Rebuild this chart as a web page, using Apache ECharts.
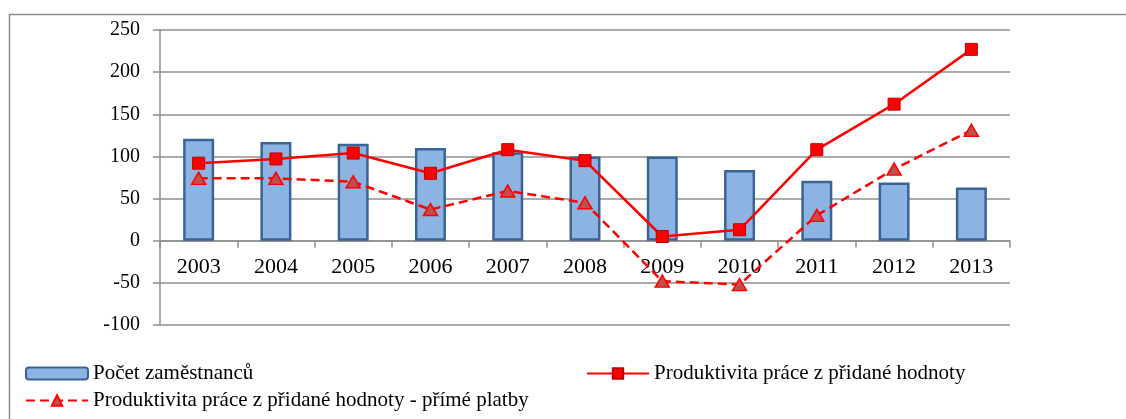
<!DOCTYPE html>
<html>
<head>
<meta charset="utf-8">
<script src="https://cdn.jsdelivr.net/npm/echarts@6/dist/echarts.min.js"></script>
<style>
  html, body { margin: 0; padding: 0; background: #fff; }
  #chart { width: 1126px; height: 419px; }
</style>
</head>
<body>
<div id="chart"></div>
<script>
// Years on the category axis
const years = ['2003', '2004', '2005', '2006', '2007', '2008', '2009', '2010', '2011', '2012', '2013'];

// Series names (legend text)
const nameStaff = 'Počet zaměstnanců';
const nameProd = 'Produktivita práce z přidané hodnoty';
const nameProdDirect = 'Produktivita práce z přidané hodnoty - přímé platby';

// Index values per year
const staffCount = [121, 117, 115, 110, 105, 100, 100, 84, 71, 69, 63];
const productivity = [92, 97, 104, 80, 108, 95, 5, 13, 108, 162, 227];
const productivityDirect = [74, 74, 70, 37, 59, 45, -48, -52, 30, 85, 131];

// Value axis range and step
const yMin = -100, yMax = 250, yStep = 50;

const serif = 'Liberation Serif';
const gridGrey = '#8f8f8f';

const gridTop = 30, gridBottom = 94, chartHeight = 419;
// The category axis sits on the zero line: shift it up from the grid bottom
const plotHeight = chartHeight - gridTop - gridBottom;
const zeroOffset = -plotHeight * (0 - yMin) / (yMax - yMin);

const chart = echarts.init(document.getElementById('chart'), null, { renderer: 'canvas' });

const legendText = { fontFamily: serif, fontSize: 21, color: '#000' };

chart.setOption({
  animation: false,
  backgroundColor: '#ffffff',
  textStyle: { fontFamily: serif },
  graphic: [{
    type: 'rect',
    shape: { x: 9.5, y: 14.5, width: 1130, height: 420 },
    style: { fill: 'none', stroke: '#8a8a8a', lineWidth: 1.5 },
    silent: true, z: -1
  }],
  grid: { left: 160, right: 116, top: gridTop, bottom: gridBottom, containLabel: false },
  legend: [
    {
      data: [nameStaff], left: 25, top: 363, itemWidth: 62, itemHeight: 12, itemGap: 4,
      textStyle: legendText, padding: 0
    },
    {
      data: [nameProd], left: 586, top: 363, itemWidth: 62, itemHeight: 13,
      textStyle: legendText, padding: 0
    },
    {
      data: [nameProdDirect], left: 25, top: 390, itemWidth: 62, itemHeight: 13,
      textStyle: legendText, padding: 0
    }
  ],
  xAxis: {
    type: 'category',
    data: years,
    position: 'bottom',
    offset: zeroOffset,
    axisLine: { onZero: false, lineStyle: { color: gridGrey, width: 1.5 } },
    axisTick: { show: true, length: 7, lineStyle: { color: gridGrey, width: 1.5 } },
    axisLabel: { fontFamily: serif, fontSize: 22, color: '#000', margin: 16 },
    splitLine: { show: false }
  },
  yAxis: {
    type: 'value',
    min: yMin, max: yMax, interval: yStep,
    axisLine: { show: true, lineStyle: { color: gridGrey, width: 1.5 } },
    axisTick: { show: true, length: 7, lineStyle: { color: gridGrey, width: 1.5 } },
    axisLabel: { fontFamily: serif, fontSize: 20, color: '#000', margin: 20 },
    splitLine: { show: true, lineStyle: { color: gridGrey, width: 1.5 } }
  },
  series: [
    {
      name: nameStaff,
      type: 'bar',
      data: staffCount,
      barWidth: 31,
      itemStyle: { color: '#8db3e2', borderColor: '#3a6496', borderWidth: 2.5 },
      z: 2
    },
    {
      name: nameProd,
      type: 'line',
      data: productivity,
      symbol: 'rect',
      symbolSize: 12,
      lineStyle: { color: '#ff0000', width: 2.5 },
      itemStyle: { color: '#ff0000', borderColor: '#c00000', borderWidth: 1 },
      z: 4
    },
    {
      name: nameProdDirect,
      type: 'line',
      data: productivityDirect,
      symbol: 'triangle',
      symbolSize: [14, 12],
      lineStyle: { color: '#ff0000', width: 2.5, type: [9, 5] },
      itemStyle: { color: '#c0504d', borderColor: '#ff0000', borderWidth: 1.5 },
      z: 3
    }
  ]
});
</script>
</body>
</html>
